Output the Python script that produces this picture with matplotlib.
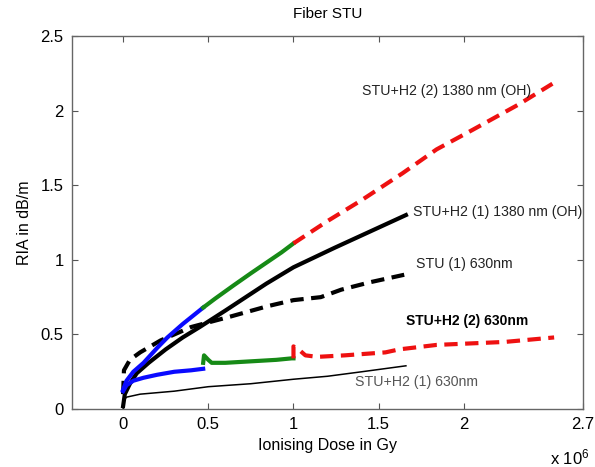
import numpy as np
import matplotlib.pyplot as plt

plt.rcParams['font.family'] = ['Liberation Sans', 'DejaVu Sans']
plt.rcParams['mathtext.default'] = 'regular'

# dose in units of 1e6 Gy, RIA in dB/m

# STU+H2 (2) 1380 nm (OH): blue / green / red stretches
hi_blue_x = [0, 0.02, 0.06, 0.12, 0.20, 0.26, 0.35, 0.47]
hi_blue_y = [0.13, 0.19, 0.25, 0.31, 0.41, 0.48, 0.57, 0.68]
hi_green_x = [0.47, 0.54, 0.65, 0.75, 0.84, 0.93, 1.0]
hi_green_y = [0.68, 0.74, 0.83, 0.91, 0.98, 1.05, 1.11]
hi_red_x = [1.0, 1.2, 1.4, 1.64, 1.84, 2.05, 2.32, 2.52]
hi_red_y = [1.11, 1.26, 1.40, 1.58, 1.74, 1.87, 2.04, 2.18]

# STU+H2 (1) 1380 nm (OH)
oh1_x = [0, 0.01, 0.04, 0.08, 0.15, 0.25, 0.35, 0.45, 0.6, 0.84, 1.0, 1.24, 1.45, 1.66]
oh1_y = [0.02, 0.10, 0.17, 0.24, 0.31, 0.40, 0.48, 0.55, 0.66, 0.84, 0.95, 1.08, 1.19, 1.30]

# STU (1) 630nm
stu_x = [0, 0.005, 0.04, 0.10, 0.22, 0.40, 0.63, 0.85, 1.0, 1.16, 1.28, 1.45, 1.65]
stu_y = [0.10, 0.26, 0.33, 0.38, 0.46, 0.55, 0.62, 0.69, 0.73, 0.75, 0.80, 0.85, 0.90]

# STU+H2 (2) 630nm: blue / green / red stretches
lo_blue_x = [0, 0.02, 0.06, 0.12, 0.20, 0.30, 0.40, 0.47]
lo_blue_y = [0.12, 0.16, 0.19, 0.21, 0.23, 0.25, 0.26, 0.27]
lo_green_x = [0.47, 0.475, 0.50, 0.52, 0.60, 0.75, 0.90, 0.99, 1.0]
lo_green_y = [0.31, 0.36, 0.33, 0.31, 0.31, 0.32, 0.33, 0.34, 0.34]
lo_red_x = [1.0, 1.0, 1.03, 1.07, 1.14, 1.30, 1.54, 1.62, 1.84, 2.04, 2.24, 2.53]
lo_red_y = [0.34, 0.42, 0.40, 0.36, 0.35, 0.36, 0.38, 0.40, 0.43, 0.44, 0.45, 0.48]

# STU+H2 (1) 630nm
h1_x = [0, 0.005, 0.02, 0.10, 0.30, 0.50, 0.75, 1.0, 1.2, 1.4, 1.66]
h1_y = [0.0, 0.06, 0.08, 0.10, 0.12, 0.15, 0.17, 0.20, 0.22, 0.25, 0.29]

x_ticks = [0, 0.5, 1, 1.5, 2, 2.7]
x_ticklabels = ['0', '0.5', '1', '1.5', '2', '2.7']
y_ticks = [0, 0.5, 1, 1.5, 2, 2.5]
y_ticklabels = ['0', '0.5', '1', '1.5', '2', '2.5']

BLUE = '#0a0aff'
GREEN = '#168a16'
RED = '#ee1111'
LW = 3.0
DASH = (3.2, 1.8)

fig = plt.figure(figsize=(5.95, 4.67), dpi=100)
ax = fig.add_axes([0.121, 0.124, 0.859, 0.799])

ax.plot(h1_x, h1_y, color='black', lw=1.1)
ax.plot(stu_x, stu_y, color='black', lw=LW, dashes=DASH)
ax.plot(oh1_x, oh1_y, color='black', lw=LW)
ax.plot(lo_blue_x, lo_blue_y, color=BLUE, lw=LW)
ax.plot(lo_green_x, lo_green_y, color=GREEN, lw=LW)
ax.plot(lo_red_x, lo_red_y, color=RED, lw=LW, dashes=DASH)
ax.plot(hi_blue_x, hi_blue_y, color=BLUE, lw=LW)
ax.plot(hi_green_x, hi_green_y, color=GREEN, lw=LW)
ax.plot(hi_red_x, hi_red_y, color=RED, lw=LW, dashes=DASH)

ax.text(1.40, 2.13, 'STU+H2 (2) 1380 nm (OH)', fontsize=10.2, color='#222222', va='center')
ax.text(1.70, 1.32, 'STU+H2 (1) 1380 nm (OH)', fontsize=10.2, color='#222222', va='center')
ax.text(1.72, 0.97, 'STU (1) 630nm', fontsize=10.2, color='#222222', va='center')
ax.text(1.66, 0.59, 'STU+H2 (2) 630nm', fontsize=10, color='black', va='center',
        fontweight='bold')
ax.text(1.36, 0.18, 'STU+H2 (1) 630nm', fontsize=10.2, color='#555555', va='center')

ax.set_xlim(-0.3, 2.7)
ax.set_ylim(0, 2.5)
ax.set_xticks(x_ticks)
ax.set_xticklabels(x_ticklabels)
ax.set_yticks(y_ticks)
ax.set_yticklabels(y_ticklabels)
ax.tick_params(direction='in', length=4, width=0.8, color='#555555',
               labelsize=12, top=True, right=True, pad=6)
for s in ax.spines.values():
    s.set_color('#666666')
    s.set_linewidth(1.0)

ax.set_title('Fiber STU', fontsize=11, pad=13)
ax.set_xlabel('Ionising Dose in Gy', fontsize=11.5, labelpad=4)
ax.set_ylabel('RIA in dB/m', fontsize=11.5, labelpad=6)
fig.text(590 / 595, 1 - 457 / 467, r'x 10$^6$', fontsize=12, ha='right', va='center')

fig.savefig('out.png', dpi=100)
